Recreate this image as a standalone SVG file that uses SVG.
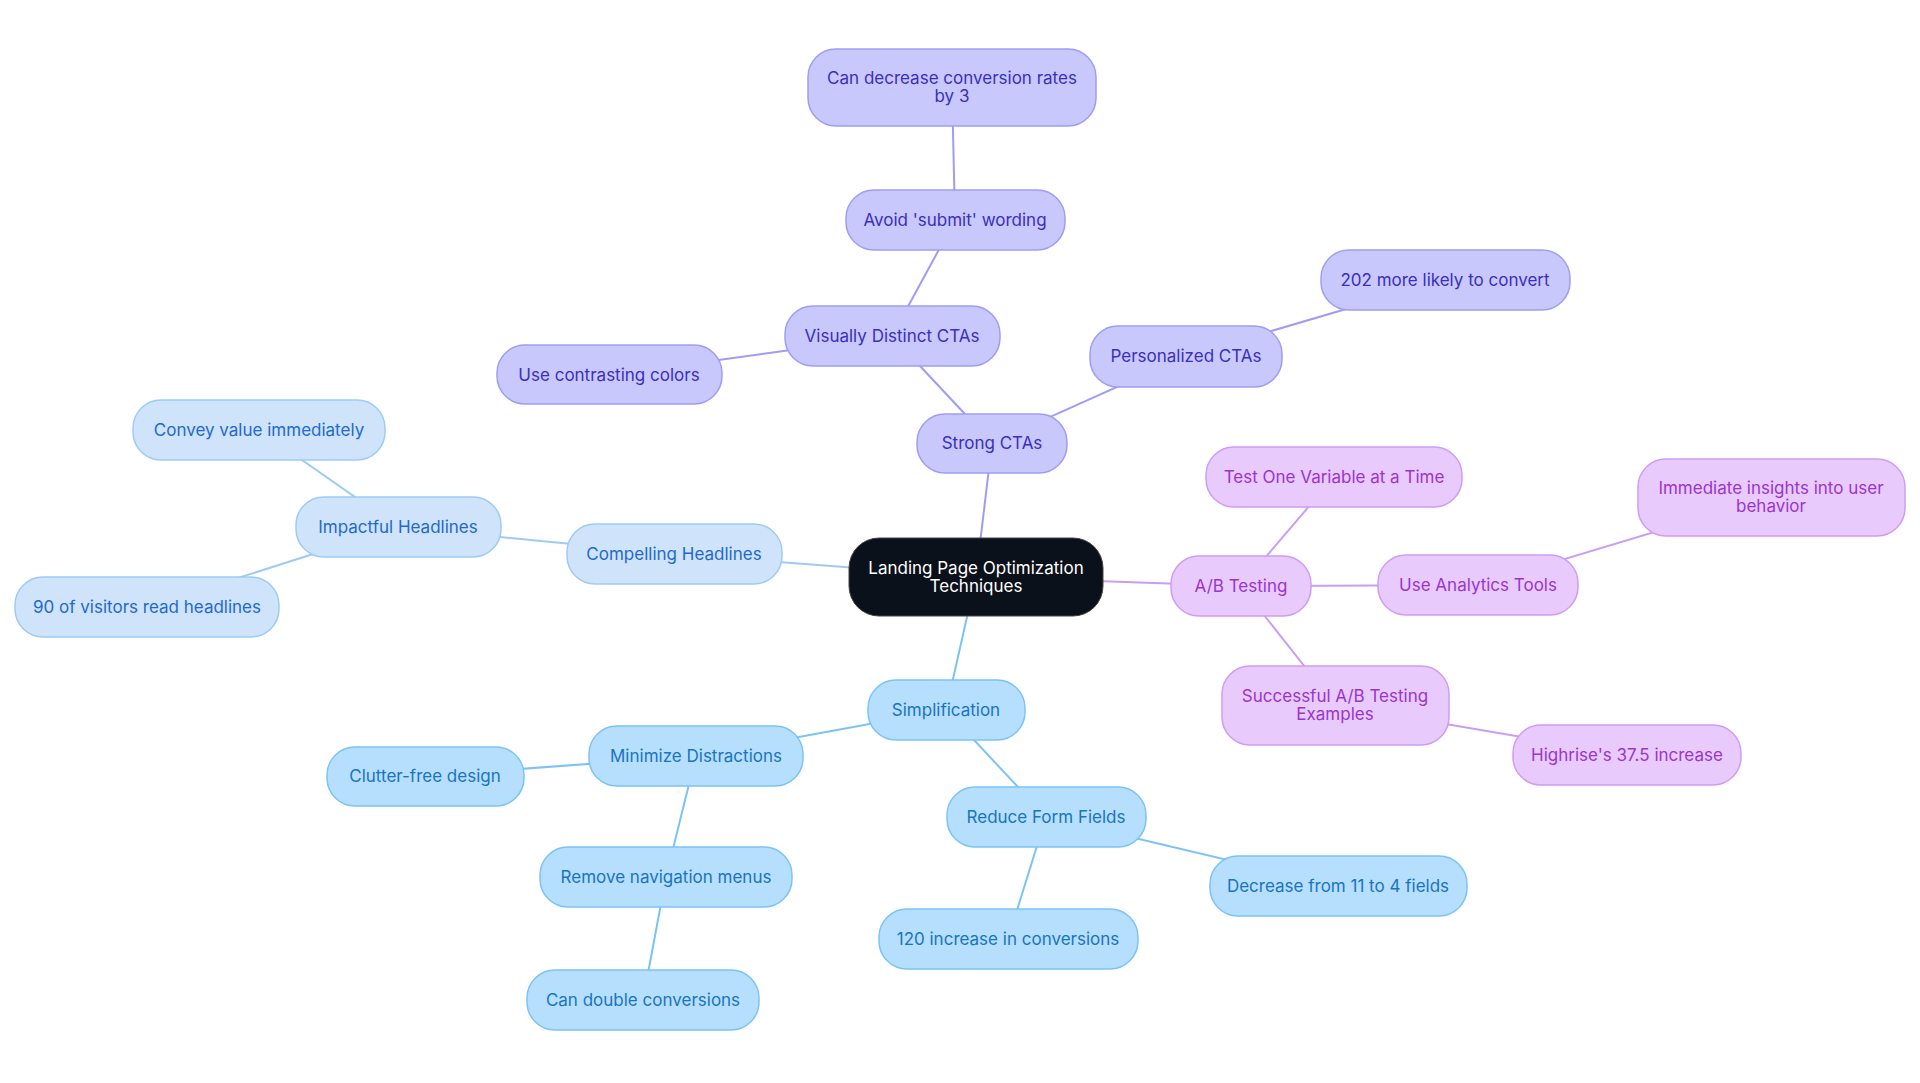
<svg xmlns="http://www.w3.org/2000/svg" width="1920" height="1083" viewBox="0 0 1920 1083">
<style>
text{font-family:Inter,"Noto Sans",sans-serif;font-size:17px;text-anchor:middle;dominant-baseline:central}
.h rect{fill:#cfe3fb;stroke:#9ecbf5;stroke-width:1.5}.h text{fill:#1e6ad0}
.s rect{fill:#b5dffd;stroke:#7cc3f5;stroke-width:1.5}.s text{fill:#1a74c0}
.c rect{fill:#c8c8fc;stroke:#a09cf5;stroke-width:1.5}.c text{fill:#3a2fc0}
.a rect{fill:#e8cafc;stroke:#cf9cf5;stroke-width:1.5}.a text{fill:#9a35d0}
#edges line{stroke-width:2}
.eh{stroke:#9ecbf5}.es{stroke:#7cc3f5}.ec{stroke:#a09cf5}.ea{stroke:#c99cf5}
</style>
<rect width="1920" height="1083" fill="#fff"/>
<g id="edges">
<line class="eh" x1="976" y1="577" x2="674" y2="554"/>
<line class="eh" x1="674" y1="554" x2="398" y2="527"/>
<line class="eh" x1="398" y1="527" x2="259" y2="430"/>
<line class="eh" x1="398" y1="527" x2="147" y2="607"/>
<line class="es" x1="976" y1="577" x2="946" y2="710"/>
<line class="es" x1="946" y1="710" x2="696" y2="756"/>
<line class="es" x1="696" y1="756" x2="425" y2="776"/>
<line class="es" x1="696" y1="756" x2="666" y2="877"/>
<line class="es" x1="666" y1="877" x2="643" y2="1000"/>
<line class="es" x1="946" y1="710" x2="1046" y2="817"/>
<line class="es" x1="1046" y1="817" x2="1338" y2="886"/>
<line class="es" x1="1046" y1="817" x2="1008" y2="939"/>
<line class="ec" x1="976" y1="577" x2="992" y2="443"/>
<line class="ec" x1="992" y1="443" x2="892" y2="336"/>
<line class="ec" x1="892" y1="336" x2="955" y2="220"/>
<line class="ec" x1="955" y1="220" x2="952" y2="87"/>
<line class="ec" x1="892" y1="336" x2="609" y2="375"/>
<line class="ec" x1="992" y1="443" x2="1186" y2="356"/>
<line class="ec" x1="1186" y1="356" x2="1445" y2="280"/>
<line class="ea" x1="976" y1="577" x2="1241" y2="586"/>
<line class="ea" x1="1241" y1="586" x2="1334" y2="477"/>
<line class="ea" x1="1241" y1="586" x2="1478" y2="585"/>
<line class="ea" x1="1478" y1="585" x2="1771" y2="497"/>
<line class="ea" x1="1241" y1="586" x2="1335" y2="705"/>
<line class="ea" x1="1335" y1="705" x2="1627" y2="755"/>
</g>
<g id="center"><rect x="849" y="538" width="254" height="78" rx="30" fill="#0b111b" stroke="#444" stroke-width="1"/><text x="976" y="568" fill="#fff">Landing Page Optimization</text><text x="976" y="586" fill="#fff">Techniques</text></g>
<g id="n-compelling" class="h"><rect x="567" y="524" width="215" height="60" rx="28"/><text x="674" y="554">Compelling Headlines</text></g>
<g id="n-impactful" class="h"><rect x="296" y="497" width="205" height="60" rx="28"/><text x="398" y="527">Impactful Headlines</text></g>
<g id="n-convey" class="h"><rect x="133" y="400" width="252" height="60" rx="28"/><text x="259" y="430">Convey value immediately</text></g>
<g id="n-90" class="h"><rect x="15" y="577" width="264" height="60" rx="28"/><text x="147" y="607">90 of visitors read headlines</text></g>
<g id="n-simpl" class="s"><rect x="868" y="680" width="157" height="60" rx="28"/><text x="946" y="710">Simplification</text></g>
<g id="n-minimize" class="s"><rect x="589" y="726" width="214" height="60" rx="28"/><text x="696" y="756">Minimize Distractions</text></g>
<g id="n-clutter" class="s"><rect x="327" y="747" width="197" height="59" rx="28"/><text x="425" y="776">Clutter-free design</text></g>
<g id="n-remove" class="s"><rect x="540" y="847" width="252" height="60" rx="28"/><text x="666" y="877">Remove navigation menus</text></g>
<g id="n-double" class="s"><rect x="527" y="970" width="232" height="60" rx="28"/><text x="643" y="1000">Can double conversions</text></g>
<g id="n-reduce" class="s"><rect x="947" y="787" width="199" height="60" rx="28"/><text x="1046" y="817">Reduce Form Fields</text></g>
<g id="n-decrease" class="s"><rect x="1210" y="856" width="257" height="60" rx="28"/><text x="1338" y="886">Decrease from 11 to 4 fields</text></g>
<g id="n-120" class="s"><rect x="879" y="909" width="259" height="60" rx="28"/><text x="1008" y="939">120 increase in conversions</text></g>
<g id="n-strong" class="c"><rect x="917" y="414" width="150" height="59" rx="28"/><text x="992" y="443">Strong CTAs</text></g>
<g id="n-visually" class="c"><rect x="785" y="306" width="215" height="60" rx="28"/><text x="892" y="336">Visually Distinct CTAs</text></g>
<g id="n-avoid" class="c"><rect x="846" y="190" width="219" height="60" rx="28"/><text x="955" y="220">Avoid 'submit' wording</text></g>
<g id="n-candecrease" class="c"><rect x="808" y="49" width="288" height="77" rx="28"/><text x="952" y="78">Can decrease conversion rates</text><text x="952" y="96">by 3</text></g>
<g id="n-contrast" class="c"><rect x="497" y="345" width="225" height="59" rx="28"/><text x="609" y="375">Use contrasting colors</text></g>
<g id="n-personal" class="c"><rect x="1090" y="326" width="192" height="61" rx="28"/><text x="1186" y="356">Personalized CTAs</text></g>
<g id="n-202" class="c"><rect x="1321" y="250" width="249" height="60" rx="28"/><text x="1445" y="280">202 more likely to convert</text></g>
<g id="n-ab" class="a"><rect x="1171" y="556" width="140" height="60" rx="28"/><text x="1241" y="586">A/B Testing</text></g>
<g id="n-test" class="a"><rect x="1206" y="447" width="256" height="60" rx="28"/><text x="1334" y="477">Test One Variable at a Time</text></g>
<g id="n-analytics" class="a"><rect x="1378" y="555" width="200" height="60" rx="28"/><text x="1478" y="585">Use Analytics Tools</text></g>
<g id="n-insights" class="a"><rect x="1638" y="459" width="267" height="77" rx="28"/><text x="1771" y="488">Immediate insights into user</text><text x="1771" y="506">behavior</text></g>
<g id="n-successful" class="a"><rect x="1222" y="666" width="227" height="79" rx="28"/><text x="1335" y="696">Successful A/B Testing</text><text x="1335" y="714">Examples</text></g>
<g id="n-highrise" class="a"><rect x="1513" y="725" width="228" height="60" rx="28"/><text x="1627" y="755">Highrise's 37.5 increase</text></g>
</svg>
